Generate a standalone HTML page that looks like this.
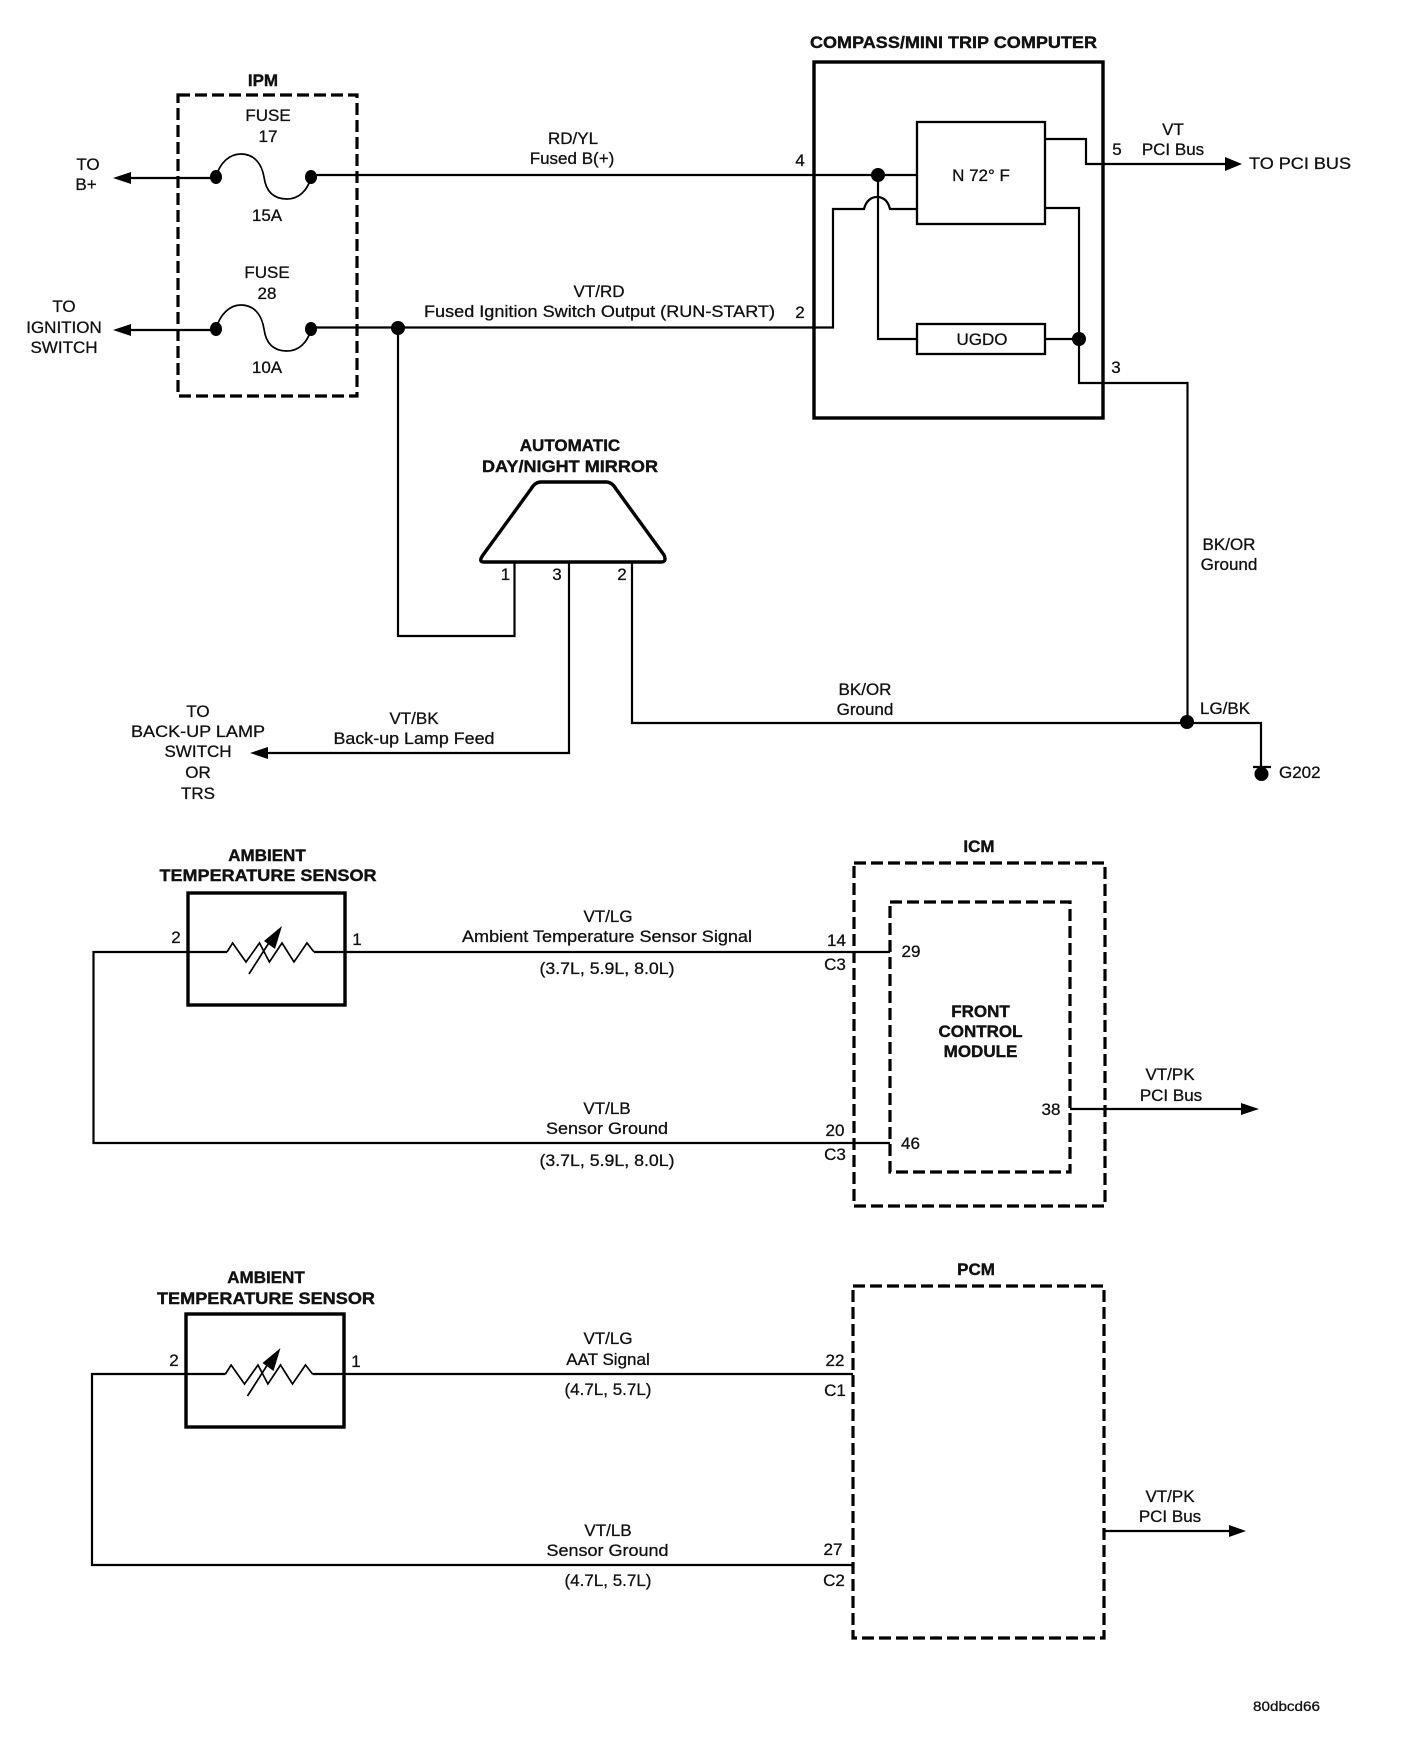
<!DOCTYPE html>
<html><head><meta charset="utf-8"><style>
html,body{margin:0;padding:0;background:#fff;width:1408px;height:1758px;overflow:hidden}
svg{display:block}
text{font-family:"Liberation Sans",sans-serif;font-size:17px;fill:#111;text-anchor:middle;stroke:#111;stroke-width:.3;transform:translateY(-1px)}
.b{font-weight:bold;stroke-width:.4}
.l{text-anchor:start}
.w{fill:none;stroke:#000;stroke-width:2.2}
.t{fill:none;stroke:#000;stroke-width:1.7}
.d{fill:none;stroke:#000;stroke-width:3.2;stroke-dasharray:12 5}
.x{fill:none;stroke:#000;stroke-width:3.4}
.m{fill:none;stroke:#000;stroke-width:2.3}
</style></head><body>
<svg width="1408" height="1758" viewBox="0 0 1408 1758" xmlns="http://www.w3.org/2000/svg">
<rect width="1408" height="1758" fill="#fff"/>

<!-- IPM -->
<rect class="d" x="178" y="95" width="179" height="301"/>
<path class="w" d="M130 178H216"/>
<path d="M113 178L131 172V184Z"/>
<path class="w" d="M130 330H216"/>
<path d="M113 330L131 324V336Z"/>
<path class="t" d="M216 177C220 162 230 154 241 154C255 154 262 165 264 177C266 192 274 199 287 199C299 199 308 190 311 177"/>
<path class="t" d="M216 329C220 314 230 305 241 305C255 305 262 316 264 329C266 344 274 351 287 351C299 351 308 342 311 329"/>
<ellipse cx="216" cy="177" rx="6" ry="7"/><ellipse cx="311" cy="177" rx="6" ry="7"/>
<ellipse cx="216" cy="329" rx="6" ry="7"/><ellipse cx="311" cy="329" rx="6" ry="7"/>
<path class="w" d="M311 175H917"/>
<path class="w" d="M311 327.500H833V209H864C866 201 871 197 877 197C884 197 888 201 890 209H917"/>
<path class="w" d="M398 328V636H514.500V562"/>
<ellipse cx="398" cy="328" rx="7" ry="7"/>
<text class="b" x="263" y="87">IPM</text>
<text x="268" y="122">FUSE</text><text x="268" y="143">17</text><text x="267" y="222">15A</text>
<text x="267" y="279">FUSE</text><text x="267" y="300">28</text><text x="267" y="374">10A</text>
<text x="88" y="171">TO</text><text x="86" y="191">B+</text>
<text x="64" y="313">TO</text><text x="64" y="334">IGNITION</text><text x="64" y="354">SWITCH</text>
<text x="573" y="145">RD/YL</text><text x="572" y="165">Fused B(+)</text>
<text x="599" y="298">VT/RD</text>
<text class="l" x="424" y="318" textLength="351" lengthAdjust="spacingAndGlyphs">Fused Ignition Switch Output (RUN-START)</text>

<!-- Compass -->
<rect class="x" x="824" y="62" width="0" height="0" style="display:none"/>
<rect class="x" x="814" y="62" width="289" height="356"/>
<rect class="m" x="917" y="122" width="128" height="102" fill="#fff"/>
<rect class="m" x="917" y="324" width="128" height="30"/>
<path class="w" d="M878 175V339H917"/>
<ellipse cx="878" cy="175" rx="7" ry="7"/>
<path class="w" d="M1045 139H1086V164H1226"/>
<path d="M1242 164L1225 157V171Z"/>
<path class="w" d="M1045 208H1079V383H1187.500V723"/>
<path class="w" d="M1045 339H1079"/>
<ellipse cx="1079" cy="339" rx="7" ry="7"/>
<text class="b l" x="810" y="49" textLength="287" lengthAdjust="spacingAndGlyphs">COMPASS/MINI TRIP COMPUTER</text>
<text x="981" y="182">N 72° F</text>
<text x="982" y="346">UGDO</text>
<text x="800" y="167">4</text><text x="800" y="319">2</text>
<text x="1117" y="156">5</text><text x="1116" y="374">3</text>
<text x="1173" y="136">VT</text><text x="1173" y="156">PCI Bus</text>
<text class="l" x="1249" y="170" textLength="102" lengthAdjust="spacingAndGlyphs">TO PCI BUS</text>

<!-- Mirror -->
<path class="x" d="M484 562H661Q667 562 664 555L616 489Q612 482 606 482H541Q535 482 531 489L483 555Q478 562 484 562Z" stroke-linejoin="round"/>
<path class="w" d="M569 562V753H262"/>
<path d="M250 753L268 747V759Z"/>
<path class="w" d="M632 562V723H1261V773"/>
<ellipse cx="1187" cy="722" rx="7" ry="7"/>
<ellipse cx="1261.500" cy="774" rx="7" ry="7"/>
<path class="w" d="M1253 767H1271"/>
<text class="b" x="570" y="452">AUTOMATIC</text>
<text class="b" x="570" y="473" textLength="176" lengthAdjust="spacingAndGlyphs">DAY/NIGHT MIRROR</text>
<text x="505.500" y="581">1</text><text x="557" y="581">3</text><text x="622" y="581">2</text>
<text x="198" y="718">TO</text><text x="198" y="738" textLength="134" lengthAdjust="spacingAndGlyphs">BACK-UP LAMP</text>
<text x="198" y="758">SWITCH</text><text x="198" y="779">OR</text><text x="198" y="800">TRS</text>
<text x="414" y="725">VT/BK</text><text x="414" y="745" textLength="161" lengthAdjust="spacingAndGlyphs">Back-up Lamp Feed</text>
<text x="865" y="696">BK/OR</text><text x="865" y="716">Ground</text>
<text x="1229" y="551">BK/OR</text><text x="1229" y="571">Ground</text>
<text class="l" x="1200" y="715">LG/BK</text>
<text class="l" x="1279" y="779">G202</text>

<!-- Sensor 1 -->
<rect class="x" x="188" y="893" width="157" height="112"/>
<path class="w" d="M227 952H93.500V1143H890"/>
<path class="w" d="M314 952H890"/>
<path class="t" d="M227 952L232.600 943L246 962L259.500 943L269.400 962L282 943L294 962L307 943L314 952"/>
<path class="t" d="M249 974L272 938"/>
<path d="M282 926L264 941L275 949Z"/>
<text class="b" x="267" y="862">AMBIENT</text>
<text class="b" x="268" y="882" textLength="217" lengthAdjust="spacingAndGlyphs">TEMPERATURE SENSOR</text>
<text x="176" y="944">2</text><text x="357" y="946">1</text>
<text x="608" y="923">VT/LG</text>
<text x="607" y="943" textLength="290" lengthAdjust="spacingAndGlyphs">Ambient Temperature Sensor Signal</text>
<text x="607" y="975" textLength="135" lengthAdjust="spacingAndGlyphs">(3.7L, 5.9L, 8.0L)</text>
<text x="607" y="1115">VT/LB</text>
<text x="607" y="1135" textLength="122" lengthAdjust="spacingAndGlyphs">Sensor Ground</text>
<text x="607" y="1167" textLength="135" lengthAdjust="spacingAndGlyphs">(3.7L, 5.9L, 8.0L)</text>

<!-- ICM -->
<rect class="d" x="864" y="873" width="0" height="0" style="display:none"/>
<rect class="d" x="864.500" y="873" width="0" height="0" style="display:none"/>
<rect class="d" x="854" y="863" width="251" height="343"/>
<rect class="d" x="890" y="902" width="180" height="270"/>
<path class="w" d="M1070 1109H1243"/>
<path d="M1259 1109L1241 1103V1115Z"/>
<text class="b" x="979" y="853">ICM</text>
<text x="836.500" y="947">14</text><text x="835" y="971">C3</text>
<text x="835" y="1137">20</text><text x="835" y="1161">C3</text>
<text x="911" y="958">29</text><text x="910.500" y="1150">46</text>
<text x="1051" y="1116">38</text>
<text class="b" x="980.500" y="1018">FRONT</text>
<text class="b" x="980.500" y="1038">CONTROL</text>
<text class="b" x="980.500" y="1058">MODULE</text>
<text x="1170" y="1081">VT/PK</text><text x="1171" y="1102">PCI Bus</text>

<!-- Sensor 2 -->
<rect class="x" x="186" y="1314" width="158" height="113"/>
<path class="w" d="M225.500 1374H92V1565H853"/>
<path class="w" d="M312.500 1374H853"/>
<g transform="translate(-1.500 422)">
<path class="t" d="M227 952L232.600 943L246 962L259.500 943L269.400 962L282 943L294 962L307 943L314 952"/>
<path class="t" d="M249 974L272 938"/>
<path d="M282 926L264 941L275 949Z"/>
</g>
<text class="b" x="266" y="1284">AMBIENT</text>
<text class="b" x="266" y="1305" textLength="218" lengthAdjust="spacingAndGlyphs">TEMPERATURE SENSOR</text>
<text x="174" y="1367">2</text><text x="356" y="1368">1</text>
<text x="608" y="1345">VT/LG</text><text x="608" y="1366">AAT Signal</text>
<text x="608" y="1396">(4.7L, 5.7L)</text>
<text x="608" y="1537">VT/LB</text>
<text x="607.500" y="1557" textLength="122" lengthAdjust="spacingAndGlyphs">Sensor Ground</text>
<text x="608" y="1587">(4.7L, 5.7L)</text>

<!-- PCM -->
<rect class="d" x="853" y="1286" width="251" height="352"/>
<path class="w" d="M1104 1531H1231"/>
<path d="M1246 1531L1229 1525V1537Z"/>
<text class="b" x="976" y="1276">PCM</text>
<text x="835" y="1367">22</text><text x="835" y="1397">C1</text>
<text x="833" y="1556">27</text><text x="834" y="1587">C2</text>
<text x="1170" y="1503">VT/PK</text><text x="1170" y="1523">PCI Bus</text>
<text class="l" x="1253" y="1712" style="font-size:14px" textLength="67" lengthAdjust="spacingAndGlyphs">80dbcd66</text>
</svg>
</body></html>
